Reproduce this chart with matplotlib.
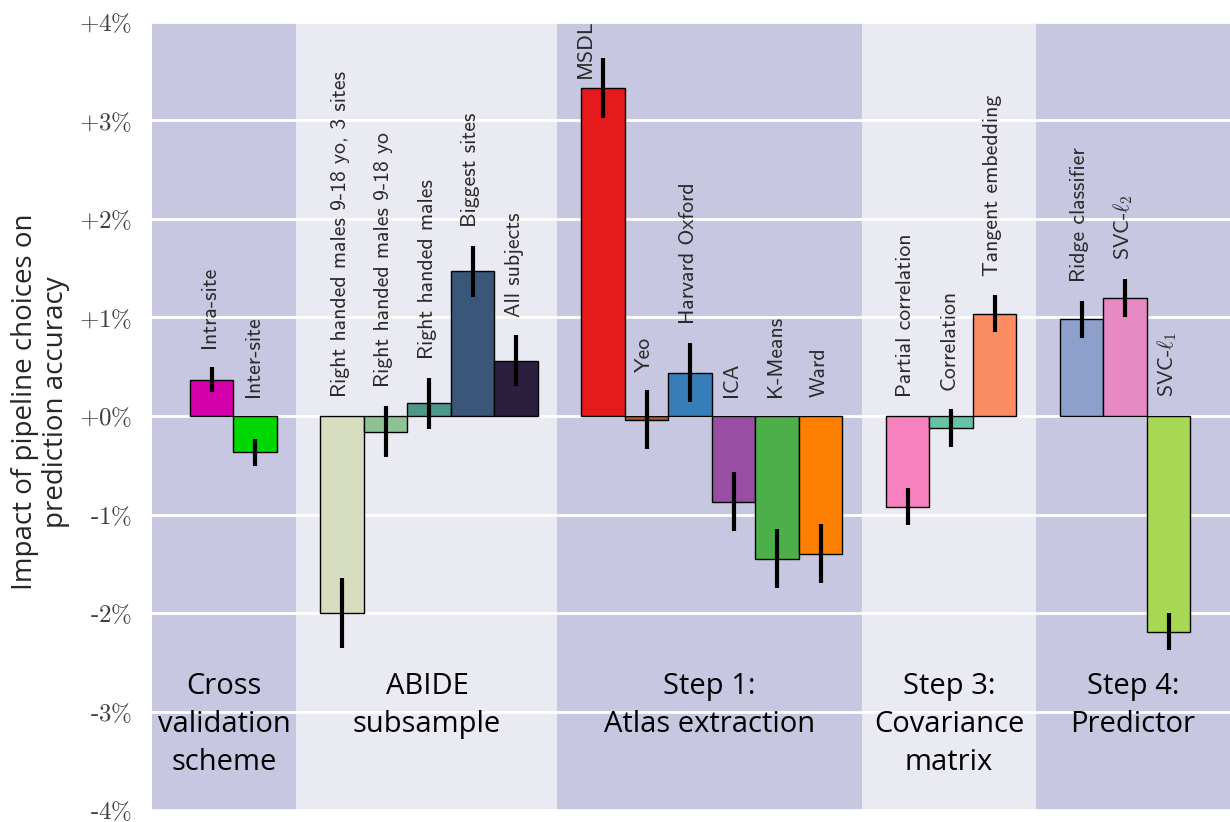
import matplotlib
matplotlib.use("Agg")
import matplotlib.pyplot as plt
import numpy as np

plt.rcParams['mathtext.fontset'] = 'cm'
plt.rcParams['axes.unicode_minus'] = False

# ---------------- data ----------------
group_titles = ["Cross\nvalidation\nscheme", "ABIDE\nsubsample",
                "Step 1:\nAtlas extraction", "Step 3:\nCovariance\nmatrix",
                "Step 4:\nPredictor"]
group_sizes = [2, 5, 6, 3, 3]

bar_labels = ["Intra-site", "Inter-site",
              "Right handed males 9-18 yo, 3 sites", "Right handed males 9-18 yo",
              "Right handed males", "Biggest sites", "All subjects",
              "MSDL", "Yeo", "Harvard Oxford", "ICA", "K-Means", "Ward",
              "Partial correlation", "Correlation", "Tangent embedding",
              "Ridge classifier", r"SVC-$\ell_2$", r"SVC-$\ell_1$"]
values = [0.37, -0.37,
          -2.00, -0.16, 0.13, 1.47, 0.56,
          3.33, -0.04, 0.44, -0.87, -1.45, -1.40,
          -0.92, -0.12, 1.04,
          0.98, 1.20, -2.19]
errors = [0.13, 0.14,
          0.36, 0.26, 0.26, 0.26, 0.26,
          0.30, 0.30, 0.30, 0.30, 0.30, 0.30,
          0.19, 0.19, 0.19,
          0.19, 0.19, 0.19]
colors = ["#d400aa", "#00d600",
          "#d7dec0", "#8ec295", "#4e9689", "#3a5779", "#2c1e3e",
          "#e41a1c", "#a65628", "#377eb8", "#984ea3", "#4daf4a", "#ff7f00",
          "#f781bf", "#66c2a5", "#fc8d62",
          "#8da0cb", "#e78ac3", "#a6d854"]
yticks = [4, 3, 2, 1, 0, -1, -2, -3, -4]
ytick_labels = ["+4$\\%$", "+3$\\%$", "+2$\\%$", "+1$\\%$", "+0$\\%$",
                "-1$\\%$", "-2$\\%$", "-3$\\%$", "-4$\\%$"]
band_colors = ["#c7c7e2", "#eaeaf2"]

# ---------------- layout ----------------
fig = plt.figure(figsize=(12.3, 8.22), dpi=100)
ax = fig.add_axes([152/1230, 12/822, 1078/1230, 788/822])
ax.set_facecolor("white")

positions = []
bounds = []
start = 1
for n in group_sizes:
    positions.extend(range(start, start + n))
    bounds.append((start - 1.05, start + n - 0.05))
    start += n + 1
positions = np.array(positions, dtype=float)

xmin, xmax = -0.37, 24.41
ax.set_xlim(xmin, xmax)
ax.set_ylim(-4, 4)

for gi, (b0, b1) in enumerate(bounds):
    left = xmin if gi == 0 else b0
    right = xmax if gi == len(bounds) - 1 else b1
    ax.axvspan(left, right, color=band_colors[gi % 2], zorder=0.1, lw=0)
    ax.text((left + right) / 2, -2.6, group_titles[gi], ha='center', va='top',
            fontsize=21, family='Open Sans', color='black', linespacing=1.4,
            multialignment='center')

ax.set_axisbelow(True)
ax.yaxis.grid(True, color='white', lw=2)
ax.xaxis.grid(False)

ax.bar(positions, values, width=1.0, color=colors, edgecolor='black',
       linewidth=1, zorder=2)
ax.errorbar(positions, values, yerr=errors, fmt='none', ecolor='black',
            elinewidth=3, capsize=0, zorder=3)

ytop_label = 3.43
for x, v, e, lab in zip(positions, values, errors, bar_labels):
    y = max(0, v + e) + 0.19
    if y > ytop_label:
        y = ytop_label
        x = x - 0.37
    ax.text(x - 0.04, y, lab, rotation=90, ha='center', va='bottom', fontsize=15.7,
            family='cmss10', color='#2a2a2a', clip_on=True, zorder=4)

ax.set_yticks(yticks)
ax.set_yticklabels(ytick_labels, family='cmr10', fontsize=18, color='#404040')
ax.set_xticks([])
ax.tick_params(axis='y', length=0, pad=14)
for s in ax.spines.values():
    s.set_visible(False)

ax.set_ylabel("Impact of pipeline choices on\nprediction accuracy",
              fontsize=20, family='Open Sans', color='#262626',
              linespacing=1.15)
ax.yaxis.set_label_coords(-0.076, 0.518)

fig.savefig("out.png", dpi=100)
